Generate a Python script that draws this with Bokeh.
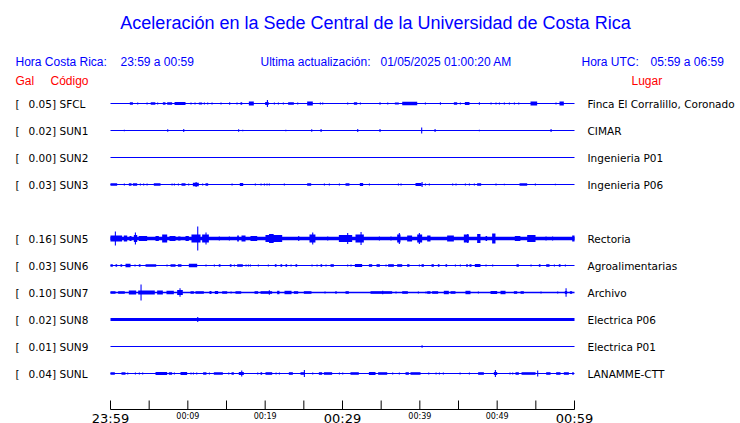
from bokeh.plotting import figure
from bokeh.models import Range1d
from bokeh.core.properties import value
from bokeh.embed import file_html
from bokeh.resources import INLINE

# ---------------- data ----------------
TITLE = "Aceleración en la Sede Central de la Universidad de Costa Rica"
HORA_CR_LABEL = "Hora Costa Rica:"
HORA_CR = "23:59 a 00:59"
ULTIMA_LABEL = "Ultima actualización:"
ULTIMA = "01/05/2025 01:00:20 AM"
HORA_UTC_LABEL = "Hora UTC:"
HORA_UTC = "05:59 a 06:59"

CODES = ["SFCL", "SUN1", "SUN2", "SUN3", "SUN5", "SUN6", "SUN7", "SUN8", "SUN9", "SUNL"]
SLOTS = [0, 1, 2, 3, 5, 6, 7, 8, 9, 10]
GAL = [0.05, 0.02, 0.00, 0.03, 0.16, 0.03, 0.10, 0.02, 0.01, 0.04]
PLACES = ["Finca El Corralillo, Coronado", "CIMAR", "Ingenieria P01", "Ingenieria P06",
          "Rectoria", "Agroalimentarias", "Archivo", "Electrica P06", "Electrica P01",
          "LANAMME-CTT"]
NOISE = [0.6, 0.6, 0.55, 0.6, 1.8, 0.6, 0.7, 1.6, 0.55, 0.6]

TICK_MIN = [0, 5, 10, 15, 20, 25, 30, 35, 40, 45, 50, 55, 60]
MAJOR_LABEL_MIN = [0, 30, 60]
MAJOR_LABELS = ["23:59", "00:29", "00:59"]
MINOR_LABEL_MIN = [10, 20, 40, 50]
MINOR_LABELS = ["00:09", "00:19", "00:39", "00:49"]

# bursts: (start minute, end minute, amplitude)
SFCL_EV = [(2.5, 2.9, 1.3), (3.45, 3.45, 1.0), (4.66, 4.66, 1.0), (5.2, 5.8, 1.3), (6.03, 6.03, 1.0),
           (6.77, 7.11, 1.3), (7.33, 7.97, 1.3), (8.28, 9.7, 1.5), (10.34, 10.34, 1.0),
           (10.86, 10.86, 1.0), (11.42, 11.85, 1.0), (12.07, 12.07, 1.0), (12.5, 12.5, 1.0),
           (13.06, 13.06, 1.0), (14.22, 14.22, 1.0), (15.34, 15.34, 1.3), (16.29, 16.29, 1.0),
           (16.81, 17.03, 1.2), (17.89, 18.53, 2.0), (20.0, 20.45, 1.5), (20.22, 20.22, 3.5),
           (21.12, 21.12, 1.0), (21.64, 21.64, 1.0), (22.28, 22.28, 1.0), (22.97, 23.71, 1.2),
           (24.14, 24.14, 1.0), (25.43, 26.16, 2.0), (27.07, 27.07, 1.0), (27.37, 27.37, 1.0),
           (30.6, 30.6, 1.0), (31.47, 31.9, 1.2), (32.24, 32.24, 1.0), (34.78, 34.78, 1.3),
           (35.78, 35.78, 1.0), (36.77, 37.28, 1.0), (37.72, 39.66, 1.8), (40.65, 40.65, 1.0),
           (42.59, 42.59, 1.3), (44.4, 44.83, 1.3), (45.17, 45.17, 1.0), (45.82, 46.42, 1.5),
           (47.63, 47.63, 1.3), (49.14, 49.14, 1.0), (49.78, 49.78, 1.0), (50.22, 50.22, 1.0),
           (50.86, 50.86, 1.0), (51.51, 51.51, 1.0), (52.16, 52.16, 1.0), (52.72, 52.72, 1.0),
           (54.31, 55.17, 2.0), (57.54, 57.54, 1.0), (58.06, 58.62, 2.0)]
SUN1_EV = [(1.72, 1.72, 0.8), (7.33, 7.33, 1.3), (9.4, 9.4, 1.5), (16.5, 16.5, 1.3),
           (17.03, 17.03, 0.8), (22.6, 22.6, 0.8), (25.95, 25.95, 1.3), (27.16, 27.16, 1.5),
           (31.9, 31.9, 1.5), (34.78, 34.78, 1.5), (40.17, 40.17, 3.0), (41.9, 41.9, 1.5),
           (47.63, 47.63, 0.8), (56.9, 56.9, 1.5)]
SUN2_EV = []
SUN3_EV = [(0.0, 0.86, 1.2), (1.72, 1.72, 1.0), (2.37, 2.72, 1.2), (2.89, 3.45, 1.2), (3.79, 3.79, 1.0),
           (4.22, 4.22, 1.0), (4.66, 4.66, 1.0), (5.6, 6.47, 1.2), (7.89, 7.89, 1.0), (8.19, 8.19, 1.0),
           (8.71, 8.71, 1.0), (9.18, 9.7, 1.2), (10.04, 10.04, 1.0), (10.65, 11.42, 1.8),
           (11.0, 11.0, 2.6), (11.85, 11.85, 1.0), (12.28, 12.63, 1.2), (15.65, 15.65, 1.0),
           (16.72, 17.16, 1.5), (18.66, 18.66, 1.0), (19.4, 19.4, 1.0), (19.83, 19.83, 1.0),
           (20.17, 20.17, 1.0), (20.47, 20.47, 1.0), (22.41, 22.41, 1.0), (25.43, 25.95, 1.3),
           (27.59, 27.59, 1.0), (28.23, 28.23, 1.0), (29.53, 29.53, 1.0), (30.39, 30.9, 1.3),
           (32.24, 32.67, 1.5), (33.41, 33.41, 1.0), (37.16, 37.16, 1.0), (37.5, 37.5, 1.0),
           (39.44, 40.22, 1.5), (40.22, 40.22, 2.4), (40.65, 40.65, 1.0), (41.16, 41.16, 1.0),
           (44.18, 44.18, 1.0), (44.61, 44.61, 1.0), (45.82, 45.82, 1.0), (46.34, 46.34, 1.0),
           (46.98, 46.98, 1.0), (47.41, 47.93, 1.3), (49.78, 49.78, 1.0), (50.86, 50.86, 0.8),
           (52.89, 53.88, 1.2), (54.87, 54.87, 1.0), (57.46, 57.46, 0.8)]
SUN5_EV = [(0.0, 1.5, 3.0), (0.56, 0.56, 7.0), (1.72, 2.16, 3.0), (2.46, 2.72, 2.5), (3.02, 3.45, 3.5),
           (3.15, 3.15, 6.0), (3.66, 4.74, 2.5), (5.82, 6.25, 2.5), (6.68, 7.33, 4.0), (7.63, 8.41, 2.5),
           (8.75, 9.05, 2.0), (9.7, 10.13, 2.5), (10.47, 11.64, 4.0), (11.21, 11.21, 12.0),
           (11.85, 12.72, 4.0), (12.28, 12.28, 6.0), (14.0, 14.0, 2.0), (15.3, 15.3, 2.0),
           (16.38, 16.6, 3.0), (16.94, 17.46, 3.0), (18.1, 18.97, 2.5), (20.04, 22.2, 3.5),
           (20.5, 21.1, 4.5), (24.27, 24.27, 2.5), (25.73, 26.5, 4.0), (26.08, 26.08, 6.0),
           (28.02, 28.02, 2.0), (29.53, 31.25, 3.5), (30.6, 30.6, 5.5), (31.68, 32.76, 4.0),
           (32.33, 32.33, 6.5), (34.7, 34.7, 2.0), (36.2, 36.2, 2.0), (37.07, 37.5, 4.0),
           (37.28, 37.28, 5.5), (38.36, 39.0, 3.0), (39.66, 40.3, 4.0), (39.87, 39.87, 5.5),
           (40.95, 41.38, 3.0), (43.53, 44.4, 3.0), (45.69, 46.34, 4.0), (46.12, 46.12, 4.5),
           (47.41, 47.84, 4.5), (48.5, 48.7, 2.5), (49.35, 49.78, 5.0), (52.28, 53.0, 2.5),
           (53.88, 54.96, 3.5), (56.25, 56.25, 2.0), (57.1, 57.1, 2.0), (59.7, 60.0, 3.0)]
SUN6_EV = [(0.0, 0.3, 1.3), (0.65, 0.86, 1.3), (1.29, 1.51, 1.3), (1.94, 2.59, 1.7), (3.1, 3.1, 1.0),
           (3.66, 3.88, 1.3), (4.53, 5.91, 1.3), (7.24, 7.24, 1.0), (7.76, 8.41, 1.3), (8.71, 9.18, 1.3),
           (10.13, 11.21, 1.7), (12.28, 12.28, 1.0), (13.36, 13.36, 1.0), (14.0, 14.22, 1.3),
           (15.43, 15.65, 1.3), (15.95, 15.95, 1.0), (16.38, 17.11, 1.3), (17.46, 17.46, 1.0),
           (17.76, 17.76, 1.0), (18.02, 18.02, 1.0), (19.05, 19.05, 1.0), (20.34, 20.34, 1.0),
           (21.25, 21.47, 1.3), (21.98, 22.2, 1.3), (22.63, 22.84, 1.3), (23.28, 23.28, 1.0),
           (23.92, 24.14, 1.3), (25.99, 25.99, 1.0), (26.64, 26.64, 1.0), (27.16, 27.37, 1.3),
           (27.8, 27.8, 1.0), (28.45, 28.88, 1.3), (30.6, 30.6, 1.0), (31.03, 31.03, 1.0),
           (31.6, 32.54, 1.5), (33.41, 33.84, 1.3), (34.4, 34.83, 1.3), (35.56, 35.56, 1.0),
           (35.9, 36.64, 1.3), (37.07, 37.72, 1.3), (38.36, 38.66, 1.3), (39.87, 39.87, 1.0),
           (40.22, 40.52, 1.3), (41.51, 41.81, 1.3), (42.33, 42.54, 1.3), (43.32, 43.53, 1.3),
           (44.53, 44.53, 1.0), (45.17, 45.17, 1.0), (45.99, 46.21, 1.3), (46.42, 46.68, 1.3),
           (47.11, 47.84, 1.5), (48.49, 48.49, 1.0), (49.35, 49.35, 1.0), (52.5, 52.8, 1.3),
           (54.31, 54.31, 1.0), (55.39, 55.6, 1.3), (56.34, 56.77, 1.3), (57.33, 57.33, 1.0),
           (57.97, 58.19, 1.3), (58.75, 58.75, 1.0)]
SUN7_EV = [(0.0, 0.65, 1.3), (0.99, 1.85, 1.3), (2.37, 3.32, 2.0), (3.58, 5.73, 2.0), (3.88, 3.88, 8.0),
           (6.03, 6.77, 2.0), (7.24, 8.19, 1.7), (8.62, 9.35, 2.5), (8.92, 8.92, 4.2),
           (10.34, 10.78, 1.3), (10.99, 12.07, 1.3), (12.8, 13.06, 1.5), (13.49, 13.92, 1.5),
           (14.44, 15.09, 1.3), (15.52, 15.52, 1.0), (16.16, 16.9, 1.3), (18.62, 19.09, 1.3),
           (19.4, 20.9, 1.3), (20.47, 20.47, 2.2), (21.55, 21.85, 1.7), (22.5, 23.41, 1.7),
           (23.71, 24.27, 1.3), (25.0, 25.99, 1.3), (27.67, 27.67, 1.0), (29.09, 29.09, 1.5),
           (30.39, 30.82, 1.3), (33.62, 36.42, 1.3), (35.13, 35.13, 1.8), (36.85, 36.85, 1.0),
           (37.72, 38.45, 1.3), (39.74, 39.74, 1.0), (40.73, 40.73, 1.0), (40.95, 41.38, 1.3),
           (41.59, 42.37, 1.3), (43.1, 43.75, 1.7), (43.97, 44.61, 1.3), (45.9, 46.55, 1.7),
           (47.5, 47.5, 1.0), (49.14, 50.0, 1.5), (50.43, 51.08, 1.7), (52.16, 52.59, 1.3),
           (53.02, 53.45, 1.3), (55.6, 55.6, 1.0), (57.76, 57.76, 1.0), (58.75, 59.05, 1.5),
           (58.84, 58.84, 4.2), (59.4, 59.7, 1.3)]
SUN8_EV = [(11.21, 11.21, 2.5)]
SUN9_EV = [(40.22, 40.22, 1.2)]
SUNL_EV = [(0.0, 0.56, 1.3), (1.42, 1.94, 1.3), (2.16, 2.16, 1.0), (3.15, 3.15, 1.0), (3.66, 3.66, 1.0),
           (4.09, 4.09, 1.0), (5.82, 7.33, 1.5), (7.54, 7.97, 1.3), (8.19, 8.19, 1.0), (9.05, 9.91, 1.5),
           (10.34, 10.34, 1.0), (10.65, 10.65, 1.0), (11.08, 11.08, 1.0), (11.98, 12.41, 1.3),
           (12.72, 12.72, 1.0), (13.36, 14.53, 1.3), (15.22, 15.22, 1.0), (15.65, 15.95, 1.3),
           (16.59, 17.24, 1.5), (16.9, 16.9, 3.0), (18.97, 18.97, 1.0), (19.4, 19.61, 1.3),
           (20.04, 20.91, 1.3), (21.34, 21.34, 1.0), (21.77, 21.77, 1.0), (23.06, 23.58, 1.3),
           (24.57, 25.13, 1.3), (25.0, 25.0, 3.5), (26.08, 26.08, 1.0), (26.94, 27.37, 1.3),
           (27.59, 28.66, 1.3), (29.53, 29.53, 1.0), (29.96, 29.96, 1.0), (31.03, 32.11, 1.3),
           (33.41, 34.27, 1.5), (34.61, 35.78, 1.3), (36.42, 36.42, 1.0), (37.28, 37.28, 1.0),
           (38.15, 38.58, 1.3), (38.79, 40.09, 1.3), (41.08, 41.08, 1.0), (42.03, 42.03, 1.0),
           (42.46, 42.46, 1.0), (42.97, 42.97, 1.0), (45.13, 45.13, 1.0), (46.34, 46.34, 1.0),
           (47.54, 48.28, 1.3), (49.57, 50.0, 1.5), (49.7, 49.7, 3.5), (51.59, 51.59, 1.0),
           (51.94, 51.94, 1.0), (52.37, 52.8, 1.3), (53.15, 54.96, 1.3), (55.17, 55.17, 3.0),
           (56.34, 56.9, 1.3), (57.63, 58.19, 1.3), (58.62, 59.27, 1.3), (59.7, 59.91, 1.3)]
EVENTS = [SFCL_EV, SUN1_EV, SUN2_EV, SUN3_EV, SUN5_EV, SUN6_EV, SUN7_EV, SUN8_EV, SUN9_EV, SUNL_EV]

# ---------------- layout ----------------
W, H = 740, 423
X0_PX, X1_PX = 110, 574          # trace start / end in canvas px
PX_PER_MIN = (X1_PX - X0_PX) / 60.0
ROW0, ROW_STEP = 103, 27
BLUE = "#0000FF"
RED = "#FF0000"
SANS = value("Liberation Sans")
DV = value("DejaVu Sans")

p = figure(width=W, height=H, x_range=Range1d(0, W), y_range=Range1d(H, 0),
           output_backend="svg", toolbar_location=None, min_border=0,
           x_axis_location=None, y_axis_location=None, outline_line_color=None,
           background_fill_color="white", border_fill_color="white")
p.grid.visible = False
p.extra_x_ranges = {"t": Range1d(-X0_PX / PX_PER_MIN, (W - X0_PX) / PX_PER_MIN)}

row_y = [ROW0 + ROW_STEP * s for s in SLOTS]

# baselines (continuous noise band)
p.quad(left=[0] * len(CODES), right=[60] * len(CODES),
       bottom=[y + n for y, n in zip(row_y, NOISE)], top=[y - n for y, n in zip(row_y, NOISE)],
       x_range_name="t", fill_color=BLUE, line_color=None)

# bursts
l, r, b, t = [], [], [], []
for y, ev in zip(row_y, EVENTS):
    for (t0, t1, a) in ev:
        l.append(t0)
        r.append(max(t1, t0 + 0.14))
        b.append(y + a)
        t.append(y - a)
p.quad(left=l, right=r, bottom=b, top=t, x_range_name="t", fill_color=BLUE, line_color=None)

# title + header texts
p.text(x=[375], y=[22], text=[TITLE], text_font=SANS, text_font_size="18px",
       text_color=BLUE, text_align="center", text_baseline="alphabetic")
hx = [15, 120, 260, 380, 581, 650]
htxt = [HORA_CR_LABEL, HORA_CR, ULTIMA_LABEL, ULTIMA, HORA_UTC_LABEL, HORA_UTC]
p.text(x=hx, y=[61] * len(hx), text=htxt, text_font=SANS, text_font_size="12px",
       text_color=BLUE, text_align="left", text_baseline="alphabetic")
p.text(x=[15, 50, 631], y=[80.5, 80.5, 80.5], text=["Gal", "Código", "Lugar"], text_font=SANS,
       text_font_size="12px", text_color=RED, text_align="left", text_baseline="alphabetic")

# station labels
lab_y = [y + 0.3 for y in row_y]
p.text(x=[15] * len(CODES), y=lab_y, text=["["] * len(CODES), text_font=DV,
       text_font_size="10.5px", text_color="black", text_align="left", text_baseline="alphabetic")
p.text(x=[55.5] * len(CODES), y=lab_y, text=["%.2f]" % g for g in GAL], text_font=DV,
       text_font_size="10.5px", text_color="black", text_align="right", text_baseline="alphabetic")
p.text(x=[59] * len(CODES), y=lab_y, text=CODES, text_font=DV,
       text_font_size="10.5px", text_color="black", text_align="left", text_baseline="alphabetic")
p.text(x=[587] * len(CODES), y=lab_y, text=PLACES, text_font=DV,
       text_font_size="10.5px", text_color="black", text_align="left", text_baseline="alphabetic")

# time axis
AX_Y = 409
p.segment(x0=[0], y0=[AX_Y], x1=[60], y1=[AX_Y], x_range_name="t", line_color="black", line_width=1)
p.segment(x0=TICK_MIN, y0=[AX_Y] * len(TICK_MIN), x1=TICK_MIN, y1=[AX_Y - 9] * len(TICK_MIN),
          x_range_name="t", line_color="black", line_width=1)
p.text(x=MAJOR_LABEL_MIN, y=[417.5] * len(MAJOR_LABEL_MIN), text=MAJOR_LABELS, x_range_name="t",
       text_font=DV, text_font_size="13px", text_color="black", text_align="center",
       text_baseline="alphabetic")
p.text(x=MINOR_LABEL_MIN, y=[416] * len(MINOR_LABEL_MIN), text=MINOR_LABELS, x_range_name="t",
       text_font=DV, text_font_size="8px", text_color="black", text_align="center",
       text_baseline="alphabetic")

open("out.html", "w").write(file_html(p, INLINE))
